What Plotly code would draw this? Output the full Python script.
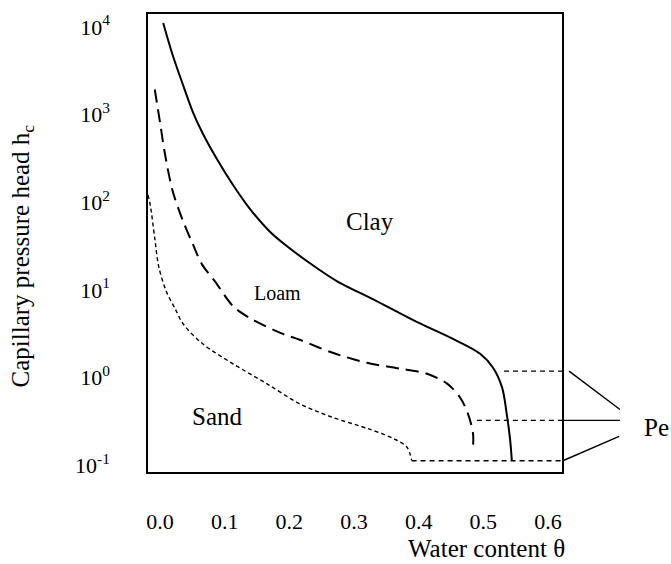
import plotly.graph_objects as go

# ---- data ----
clay_theta = [0.005, 0.020, 0.036, 0.051, 0.066, 0.088, 0.113, 0.139, 0.17, 0.201, 0.243, 0.274, 0.335, 0.397, 0.453, 0.495, 0.515, 0.529, 0.536, 0.541, 0.544]
clay_h = [11100, 4690, 2140, 1060, 612, 311, 157, 84, 46, 29.6, 17.6, 12.5, 7.43, 4.3, 2.75, 1.86, 1.29, 0.766, 0.389, 0.207, 0.114]

loam_theta = [-0.008, 0.0, 0.008, 0.020, 0.036, 0.051, 0.065, 0.085, 0.113, 0.139, 0.19, 0.216, 0.267, 0.32, 0.371, 0.413, 0.444, 0.464, 0.476, 0.484, 0.484]
loam_h = [1930, 817, 345, 131, 60, 32.9, 19.5, 12.5, 6.5, 4.76, 3.14, 2.69, 1.91, 1.47, 1.26, 1.10, 0.85, 0.59, 0.389, 0.23, 0.16]

sand_theta = [-0.0185, -0.015, -0.008, -0.002, 0.010, 0.023, 0.036, 0.066, 0.113, 0.165, 0.216, 0.267, 0.32, 0.36, 0.382, 0.389]
sand_h = [121, 93, 38.5, 18.5, 9.5, 6.18, 4.07, 2.42, 1.43, 0.85, 0.5, 0.35, 0.263, 0.202, 0.16, 0.114]

# entry pressures (Pe) for clay, loam, sand and where their dashed lines start
pe_h = [1.18, 0.324, 0.112]
pe_theta_start = [0.532, 0.49, 0.389]
pe_theta_end = 0.6216

y_tickvals = [0.1, 1, 10, 100, 1000, 10000]
y_ticktext = ["10<sup>-1</sup>", "10<sup>0</sup>", "10<sup>1</sup>", "10<sup>2</sup>", "10<sup>3</sup>", "10<sup>4</sup>"]
x_tickvals = [0.0, 0.1, 0.2, 0.3, 0.4, 0.5, 0.6]
x_ticktext = ["0.0", "0.1", "0.2", "0.3", "0.4", "0.5", "0.6"]

FONT = "Liberation Serif, Times New Roman, serif"

fig = go.Figure()
fig.add_trace(go.Scatter(x=clay_theta, y=clay_h, mode="lines",
                         line=dict(color="black", width=2, shape="spline", smoothing=1.0), showlegend=False))
fig.add_trace(go.Scatter(x=loam_theta, y=loam_h, mode="lines",
                         line=dict(color="black", width=2, dash="13px,7px", shape="spline", smoothing=0.9), showlegend=False))
fig.add_trace(go.Scatter(x=sand_theta, y=sand_h, mode="lines",
                         line=dict(color="black", width=1.4, dash="4px,3px", shape="spline", smoothing=0.9), showlegend=False))
for h, t0 in zip(pe_h, pe_theta_start):
    fig.add_trace(go.Scatter(x=[t0, pe_theta_end], y=[h, h], mode="lines",
                             line=dict(color="black", width=1.4, dash="5px,4px"), showlegend=False))

# pointer lines from the Pe levels to the "Pe" label
ptr = dict(type="line", xref="paper", yref="y", line=dict(color="black", width=1.4))
fig.add_shape(ptr, x0=1.017, x1=1.140, y0=pe_h[0], y1=0.431)
fig.add_shape(ptr, x0=1.0, x1=1.140, y0=pe_h[1], y1=pe_h[1])
fig.add_shape(ptr, x0=1.002, x1=1.138, y0=pe_h[2], y1=0.213)

ann = dict(xref="paper", yref="paper", showarrow=False, xanchor="center", yanchor="middle",
           font=dict(family=FONT, color="black"))
fig.add_annotation(ann, x=0.536, y=0.547, text="Clay", font_size=25)
fig.add_annotation(ann, x=0.312, y=0.390, text="Loam", font_size=20)
fig.add_annotation(ann, x=0.169, y=0.121, text="Sand", font_size=25)
fig.add_annotation(ann, x=1.193, y=0.098, text="Pe", font_size=25, xanchor="left")
fig.add_annotation(ann, x=1.012, y=-0.167, text="Water content θ", font_size=25, xanchor="right")
fig.add_annotation(ann, x=-0.304, y=0.471, text="Capillary pressure head h<sub>c</sub>", font_size=25, textangle=-90)

fig.update_layout(
    width=671, height=564,
    margin=dict(l=148, r=109, t=11, b=92),
    plot_bgcolor="white", paper_bgcolor="white",
    font=dict(family=FONT, size=22, color="black"),
)
fig.update_xaxes(range=[-0.0185, 0.6216], tickvals=x_tickvals, ticktext=x_ticktext,
                 showline=True, mirror=True, linecolor="black", linewidth=1.5,
                 showgrid=False, zeroline=False, ticks="", ticklabelstandoff=29)
fig.update_yaxes(type="log", range=[-1.079, 4.147], tickvals=y_tickvals, ticktext=y_ticktext,
                 showline=True, mirror=True, linecolor="black", linewidth=1.5,
                 showgrid=False, zeroline=False, ticks="", ticklabelstandoff=32)

# remove the default page margin so the figure fills the window exactly
fig.write_html("out.html", config={"displayModeBar": False},
               post_script="document.body.style.margin='0';document.body.style.overflow='hidden';")
